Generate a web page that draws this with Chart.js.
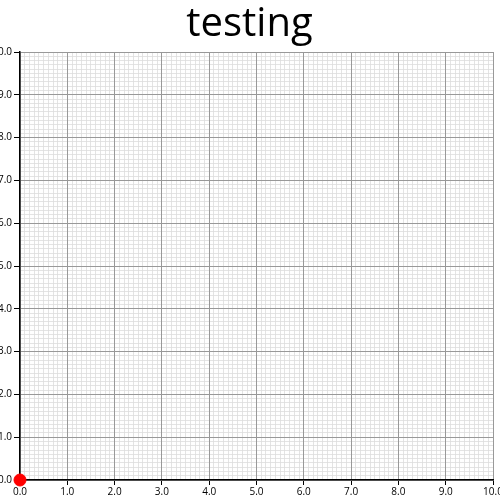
<!DOCTYPE html><html><head><style>html,body{margin:0;padding:0;background:#fff}#w{width:500px;height:500px}</style>
<script src="https://cdn.jsdelivr.net/npm/chart.js@4"></script></head><body><div id="w"><canvas id="c"></canvas></div>
<script>
const pointsX=[0];
const pointsY=[0];
const axisMin=0, axisMax=10;
const fmt=v=>Number(v).toFixed(1);
new Chart(document.getElementById('c'),{type:'scatter',
data:{datasets:[{data:pointsX.map((x,i)=>({x,y:pointsY[i]})),backgroundColor:'#ff0000',borderColor:'#ff0000',pointRadius:6,clip:false}]},
options:{responsive:true,maintainAspectRatio:false,animation:false,
layout:{padding:{top:0,right:1,bottom:0,left:0}},
plugins:{legend:{display:false},tooltip:{enabled:false},
title:{display:true,text:'testing',color:'#000',font:{family:'Open Sans',size:40,weight:'normal'},padding:{top:1,bottom:3}}},
scales:{
xm:{type:'linear',axis:'x',position:'bottom',min:axisMin,max:axisMax,ticks:{display:false,stepSize:0.1},grid:{color:'#dddddd',drawTicks:false,lineWidth:0.8},border:{display:false},afterFit:s=>{s.height=0;s.paddingLeft=0;s.paddingRight=0;}},
ym:{type:'linear',axis:'y',position:'left',min:axisMin,max:axisMax,ticks:{display:false,stepSize:0.1},grid:{color:'#dddddd',drawTicks:false,lineWidth:0.8},border:{display:false},afterFit:s=>{s.width=0;}},
x:{type:'linear',position:'bottom',min:axisMin,max:axisMax,ticks:{stepSize:1,maxRotation:0,color:'#000',font:{family:'Open Sans',size:10},callback:fmt,padding:1},grid:{color:'#999999',tickColor:'#000',tickLength:5},border:{color:'#000',width:1.5},afterFit:s=>{s.paddingLeft=0;s.paddingRight=0;s.height=20;}},
y:{type:'linear',position:'left',min:axisMin,max:axisMax,ticks:{stepSize:1,color:'#000',font:{family:'Open Sans',size:10},callback:fmt,padding:2},grid:{color:'#999999',tickColor:'#000',tickLength:6},border:{color:'#000',width:1.5},afterFit:s=>{s.width=20;}}
}}});
</script></body></html>
